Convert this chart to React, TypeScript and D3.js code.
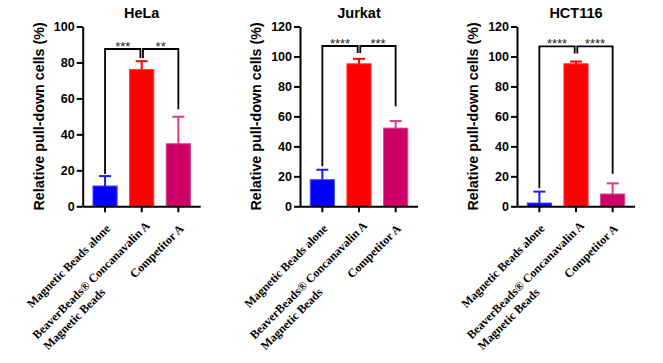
import React, { useEffect, useRef } from "react";
import * as d3 from "d3";

// ---------- data ----------
const categoryLines: string[][] = [
  ["Magnetic Beads alone"],
  ["BeaverBeads® Concanavalin A", "Magnetic Beads"],
  ["Competitor A"],
];
const panelTitles = ["HeLa", "Jurkat", "HCT116"];
const yMaxes = [100, 120, 120];
const yTickStep = 20;

const helaMeans = [11.3, 76.1, 34.8];
const helaErrors = [5.5, 4.6, 15.0];
const jurkatMeans = [17.8, 95.1, 52.2];
const jurkatErrors = [6.6, 3.3, 4.7];
const hctMeans = [2.2, 95.1, 8.2];
const hctErrors = [7.6, 1.5, 7.1];

// significance: [bracket level, left leg end, inner leg end, right leg end] in data units
const helaBracket = [87.5, 18, 82.5, 54];
const jurkatBracket = [107, 26.7, 102.3, 66.7];
const hctBracket = [106.7, 12, 102, 21.7];
const helaStars = ["***", "**"];
const jurkatStars = ["****", "***"];
const hctStars = ["****", "****"];

const yAxisTitle = "Relative pull-down cells (%)";

// ---------- styles ----------
const barFills = ["#0000FF", "#FF0000", "#CC0066"];
const barEdges = ["#4D4DFF", "#FF3B3B", "#D9468C"];
const errColors = ["#1a1aFF", "#FF0000", "#D63F86"];
const sans = "'Liberation Sans', Arial, sans-serif";
const serif = "'Liberation Serif', 'Times New Roman', serif";

const panelLefts = [82.7, 300, 517];
const plotW = 118;
const plotTop = 26.5;
const plotBottom = 206.3;

export default function App() {
  const ref = useRef<SVGSVGElement>(null);

  useEffect(() => {
    const svg = d3.select(ref.current);
    svg.selectAll("*").remove();

    const means = [helaMeans, jurkatMeans, hctMeans];
    const errs = [helaErrors, jurkatErrors, hctErrors];
    const brackets = [helaBracket, jurkatBracket, hctBracket];
    const stars = [helaStars, jurkatStars, hctStars];

    panelTitles.forEach((title, pi) => {
      const left = panelLefts[pi];
      const g = svg.append("g");
      const x = d3
        .scaleBand<number>()
        .domain([0, 1, 2])
        .range([left, left + plotW])
        .paddingInner(0.34)
        .paddingOuter(0.28);
      const y = d3.scaleLinear().domain([0, yMaxes[pi]]).range([plotBottom, plotTop]);

      // bars
      means[pi].forEach((m, i) => {
        g.append("rect")
          .attr("x", x(i)!)
          .attr("y", y(m))
          .attr("width", x.bandwidth())
          .attr("height", y(0) - y(m))
          .attr("fill", barFills[i])
          .attr("stroke", barEdges[i])
          .attr("stroke-width", 1);
        const cx = x(i)! + x.bandwidth() / 2;
        const top = y(m + errs[pi][i]);
        g.append("line")
          .attr("x1", cx).attr("x2", cx)
          .attr("y1", y(m)).attr("y2", top)
          .attr("stroke", errColors[i]).attr("stroke-width", 2);
        g.append("line")
          .attr("x1", cx - 6).attr("x2", cx + 6)
          .attr("y1", top).attr("y2", top)
          .attr("stroke", errColors[i]).attr("stroke-width", 2);
      });

      // y axis
      const ticks = d3.range(0, yMaxes[pi] + 1, yTickStep);
      const ya = g
        .append("g")
        .attr("transform", `translate(${left},0)`)
        .call(
          d3.axisLeft(y).tickValues(ticks).tickSize(6).tickSizeOuter(0).tickPadding(2).tickFormat(d3.format("d"))
        );
      ya.selectAll("path,line").attr("stroke", "#000").attr("stroke-width", 2);
      ya.selectAll("text")
        .attr("font-family", sans)
        .attr("font-weight", "bold")
        .attr("font-size", 12.5)
        .attr("fill", "#000");

      // x axis
      const xa = g
        .append("g")
        .attr("transform", `translate(0,${plotBottom})`)
        .call(d3.axisBottom(x).tickSize(6).tickSizeOuter(0).tickFormat(() => ""));
      xa.selectAll("path,line").attr("stroke", "#000").attr("stroke-width", 2);
      xa.selectAll("path").attr("d", `M${left},0.5H${left + plotW}`);

      // category labels
      categoryLines.forEach((lines, i) => {
        const cx = x(i)! + x.bandwidth() / 2;
        const n = lines.length;
        const lg = g
          .append("g")
          .attr(
            "transform",
            `translate(${cx + 6 + 3 * (n - 1)},${plotBottom + 23 - 3 * (n - 1)}) rotate(-45)`
          );
        const first = lg
          .append("text")
          .attr("text-anchor", "end")
          .attr("font-family", serif)
          .attr("font-weight", "bold")
          .attr("font-size", 12)
          .attr("fill", "#000")
          .text(lines[0]);
        const w = (first.node() as SVGTextElement).getComputedTextLength();
        lines.slice(1).forEach((ln, k) => {
          lg.append("text")
            .attr("text-anchor", "start")
            .attr("x", -w)
            .attr("y", 15.5 * (k + 1))
            .attr("font-family", serif)
            .attr("font-weight", "bold")
            .attr("font-size", 12)
            .attr("fill", "#000")
            .text(ln);
        });
      });

      // y axis title
      g.append("text")
        .attr("transform", `translate(${left - 44},${(plotTop + plotBottom) / 2}) rotate(-90)`)
        .attr("text-anchor", "middle")
        .attr("dy", "0.35em")
        .attr("font-family", sans)
        .attr("font-weight", "bold")
        .attr("font-size", 14.3)
        .attr("fill", "#000")
        .text(yAxisTitle);

      // title
      g.append("text")
        .attr("x", left + plotW / 2)
        .attr("y", 17.5)
        .attr("text-anchor", "middle")
        .attr("font-family", sans)
        .attr("font-weight", "bold")
        .attr("font-size", 14.5)
        .attr("fill", "#000")
        .text(title);

      // significance brackets
      const [lvl, legL, legIn, legR] = brackets[pi];
      const c0 = x(0)! + x.bandwidth() / 2;
      const c1 = x(1)! + x.bandwidth() / 2;
      const c2 = x(2)! + x.bandwidth() / 2;
      const gap = 1.3;
      const pairs = [
        { a: c0, b: c1 - gap, ya: legL, yb: legIn },
        { a: c1 + gap, b: c2, ya: legIn, yb: legR },
      ];
      pairs.forEach((pr, k) => {
        g.append("path")
          .attr("d", `M${pr.a},${y(pr.ya)}V${y(lvl)}H${pr.b}V${y(pr.yb)}`)
          .attr("fill", "none")
          .attr("stroke", "#000")
          .attr("stroke-width", 1.8);
        g.append("text")
          .attr("x", (pr.a + pr.b) / 2)
          .attr("y", y(lvl) + 1.8)
          .attr("text-anchor", "middle")
          .attr("font-family", sans)
          .attr("font-size", 13)
          .attr("fill", "#222")
          .text(stars[pi][k]);
      });
    });
  }, []);

  return (
    <svg
      ref={ref}
      width={663}
      height={363}
      style={{ position: "absolute", left: 0, top: 0, background: "#fff" }}
    />
  );
}
